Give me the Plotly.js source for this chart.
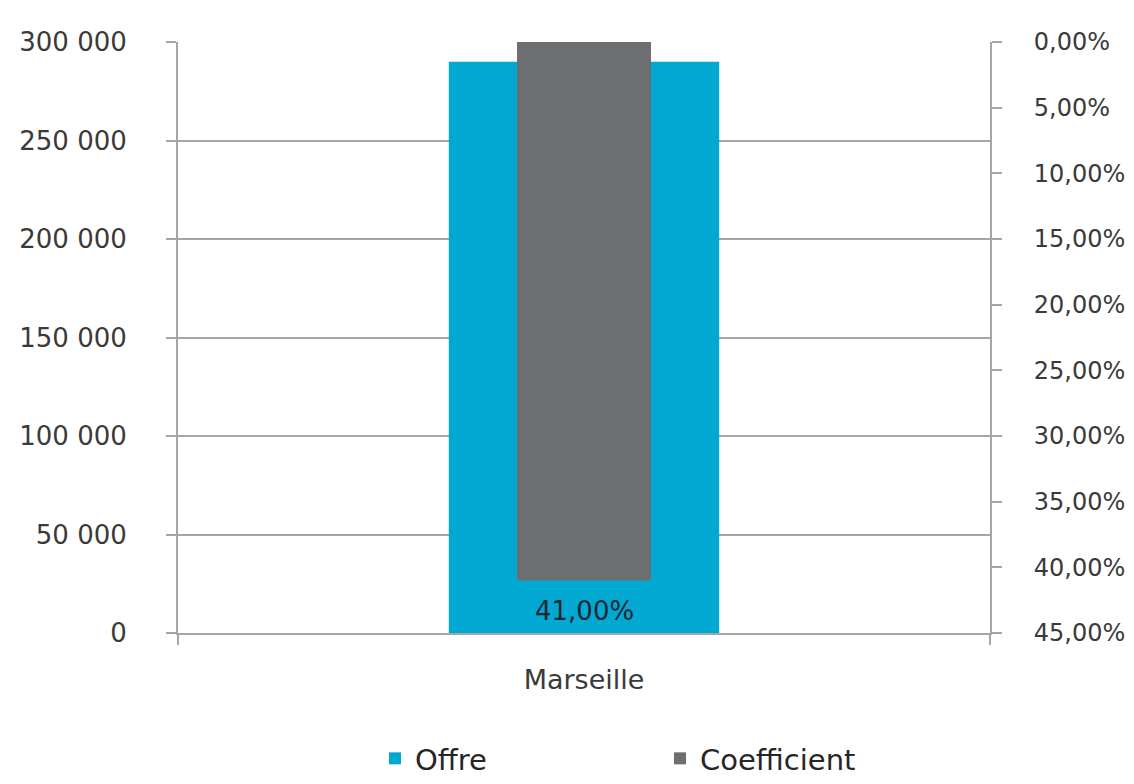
<!DOCTYPE html>
<html>
<head>
<meta charset="utf-8">
<script src="https://cdn.plot.ly/plotly-3.0.1.min.js"></script>
<style>html,body{margin:0;padding:0;background:#fff;}#chart{width:1134px;height:784px;}</style>
</head>
<body>
<div id="chart"></div>
<script>
const categories = ["Marseille"];
const offre = [290000];
const coefficient = [0.41];
const seriesNames = ["Offre", "Coefficient"];

const FONT = "DejaVu Sans, sans-serif";
const AXIS = "#A6A6A6";
const TXT = "#3A3A3A";

const traces = [
  {
    type: "bar", name: seriesNames[0], x: categories, y: offre,
    width: 0.333, marker: {color: "#00A8D2"}, yaxis: "y",
    hoverinfo: "skip"
  },
  {
    type: "bar", name: seriesNames[1], x: categories, y: coefficient,
    width: 0.165, marker: {color: "#6D6E70"}, yaxis: "y2",
    hoverinfo: "skip"
  }
];

const layout = {
  width: 1134, height: 784,
  margin: {l: 178, r: 144, t: 42, b: 151, autoexpand: false},
  paper_bgcolor: "#fff", plot_bgcolor: "#fff",
  separators: ", ",
  barmode: "overlay",
  font: {family: FONT, size: 24, color: TXT},
  showlegend: true,
  legend: {
    orientation: "h", x: 0.2426, xanchor: "left", y: -0.2555, yanchor: "bottom",
    font: {family: FONT, size: 29, color: "#262626"},
    entrywidth: 240, traceorder: "normal"
  },
  xaxis: {
    type: "category", range: [-0.5, 0.5],
    showline: true, linecolor: AXIS, linewidth: 2,
    ticks: "outside", tickson: "boundaries", ticklen: 10, tickcolor: AXIS, tickwidth: 2,
    ticklabelstandoff: 22,
    showgrid: false, zeroline: false,
    tickfont: {family: FONT, size: 27, color: TXT}
  },
  yaxis: {
    range: [0, 300000], dtick: 50000, tick0: 0, tickformat: ",d",
    showline: true, linecolor: AXIS, linewidth: 2,
    ticks: "outside", ticklen: 10, tickcolor: AXIS, tickwidth: 2,
    ticklabelstandoff: 34,
    showgrid: true, gridcolor: AXIS, gridwidth: 2, zeroline: false,
    tickfont: {family: FONT, size: 26, color: TXT}
  },
  yaxis2: {
    overlaying: "y", side: "right",
    range: [0.45, 0], dtick: 0.05, tick0: 0, tickformat: ".2%",
    showline: true, linecolor: AXIS, linewidth: 2,
    ticks: "outside", ticklen: 10, tickcolor: AXIS, tickwidth: 2,
    ticklabelstandoff: 27,
    showgrid: false, zeroline: false,
    tickfont: {family: FONT, size: 24, color: TXT}
  },
  annotations: [{
    x: categories[0], y: coefficient[0], xref: "x", yref: "y2",
    text: (coefficient[0] * 100).toFixed(2).replace(".", ",") + "%",
    showarrow: false, yanchor: "top", yshift: -14,
    font: {family: FONT, size: 26, color: "#1B2733"}
  }]
};

Plotly.newPlot("chart", traces, layout, {staticPlot: true, displayModeBar: false});
</script>
</body>
</html>
